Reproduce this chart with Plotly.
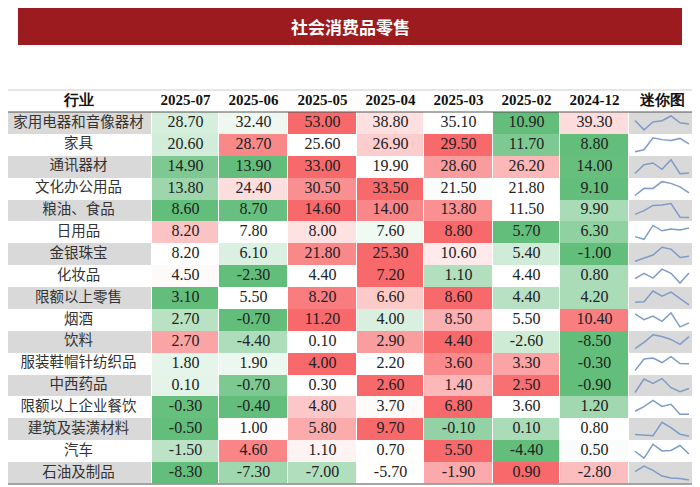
import plotly.graph_objects as go
import numpy as np

title = "社会消费品零售"
header_label = "行业"
spark_label = "迷你图"
months = ["2025-07", "2025-06", "2025-05", "2025-04", "2025-03", "2025-02", "2024-12"]
industries = ["家用电器和音像器材", "家具", "通讯器材", "文化办公用品", "粮油、食品", "日用品",
              "金银珠宝", "化妆品", "限额以上零售", "烟酒", "饮料", "服装鞋帽针纺织品", "中西药品",
              "限额以上企业餐饮", "建筑及装潢材料", "汽车", "石油及制品"]
values = [
    [28.70, 32.40, 53.00, 38.80, 35.10, 10.90, 39.30],
    [20.60, 28.70, 25.60, 26.90, 29.50, 11.70, 8.80],
    [14.90, 13.90, 33.00, 19.90, 28.60, 26.20, 14.00],
    [13.80, 24.40, 30.50, 33.50, 21.50, 21.80, 9.10],
    [8.60, 8.70, 14.60, 14.00, 13.80, 11.50, 9.90],
    [8.20, 7.80, 8.00, 7.60, 8.80, 5.70, 6.30],
    [8.20, 6.10, 21.80, 25.30, 10.60, 5.40, -1.00],
    [4.50, -2.30, 4.40, 7.20, 1.10, 4.40, 0.80],
    [3.10, 5.50, 8.20, 6.60, 8.60, 4.40, 4.20],
    [2.70, -0.70, 11.20, 4.00, 8.50, 5.50, 10.40],
    [2.70, -4.40, 0.10, 2.90, 4.40, -2.60, -8.50],
    [1.80, 1.90, 4.00, 2.20, 3.60, 3.30, -0.30],
    [0.10, -0.70, 0.30, 2.60, 1.40, 2.50, -0.90],
    [-0.30, -0.40, 4.80, 3.70, 6.80, 3.60, 1.20],
    [-0.50, 1.00, 5.80, 9.70, -0.10, 0.10, 0.80],
    [-1.50, 4.60, 1.10, 0.70, 5.50, -4.40, 0.50],
    [-8.30, -7.30, -7.00, -5.70, -1.90, 0.90, -2.80],
]

W, H = 700, 487
OFF = 8
col_edges = [5, 152, 219, 288, 357, 424, 493, 560, 629, 695]
hdr_top, hdr_bot = 90, 112
row_h = (484 - hdr_bot) / len(industries)
row_edges = [hdr_bot + i * row_h for i in range(len(industries) + 1)]
row_centers = [(row_edges[i] + row_edges[i + 1]) / 2 for i in range(len(industries))]

vals = np.array(values)
norm = np.zeros_like(vals)
for i, r in enumerate(vals):
    mn, md, mx = r.min(), np.median(r), r.max()
    for j, v in enumerate(r):
        if v >= md:
            norm[i, j] = (v - md) / (mx - md) if mx > md else 0
        else:
            norm[i, j] = -(md - v) / (md - mn) if md > mn else 0

fig = go.Figure()
fig.add_trace(go.Heatmap(
    x=col_edges[1:9], y=row_edges, z=norm, zmin=-1, zmax=1,
    colorscale=[[0, "#63BE7B"], [0.5, "#FFFFFF"], [1, "#F8696B"]],
    showscale=False, xgap=1, ygap=0, hoverinfo="skip"))

stripe = [[1 if i % 2 == 0 else 0] for i in range(len(industries))]
for x0, x1 in [(col_edges[0], col_edges[1]), (col_edges[8], col_edges[9])]:
    fig.add_trace(go.Heatmap(x=[x0, x1], y=row_edges, z=stripe, zmin=0, zmax=1,
                             colorscale=[[0, "#FFFFFF"], [1, "#D9D9D9"]], showscale=False,
                             xgap=1, hoverinfo="skip"))

xc = [(col_edges[j] + col_edges[j + 1]) / 2 for j in range(len(col_edges) - 1)]
tx, ty, tt = [], [], []
for i in range(len(industries)):
    for j in range(len(months)):
        tx.append(xc[j + 1]); ty.append(row_centers[i]); tt.append(f"{values[i][j]:.2f}")
fig.add_trace(go.Scatter(x=tx, y=ty, text=tt, mode="text",
                         textfont=dict(family="Liberation Serif", size=16, color="#222"),
                         hoverinfo="skip"))
fig.add_trace(go.Scatter(x=[xc[0]] * len(industries), y=row_centers, text=industries, mode="text",
                         textfont=dict(family="Noto Sans CJK SC", size=14.5, color="#333"),
                         hoverinfo="skip"))
fig.add_trace(go.Scatter(x=xc, y=[(hdr_top + hdr_bot) / 2] * len(xc),
                         text=[f"<b>{t}</b>" for t in [header_label] + months + [spark_label]],
                         mode="text", textfont=dict(family="Liberation Serif", size=15, color="#111"),
                         hoverinfo="skip"))

# sparklines in chronological order (oldest left)
sx0, sx1 = col_edges[8] + 6, col_edges[9] - 6
for i, r in enumerate(vals):
    rr = r[::-1]
    mn, mx = rr.min(), rr.max()
    ys = [row_edges[i] + 4 + (mx - v) / (mx - mn) * (row_h - 8) for v in rr]
    xs = [sx0 + k * (sx1 - sx0) / (len(rr) - 1) for k in range(len(rr))]
    fig.add_trace(go.Scatter(x=xs, y=ys, mode="lines", line=dict(color="#7F9CC8", width=1.5),
                             hoverinfo="skip"))

shapes = [
    dict(type="rect", x0=18, x1=682, y0=8, y1=45, fillcolor="#9B1B1E", line_width=0, layer="below"),
    dict(type="line", x0=col_edges[0], x1=col_edges[-1], y0=hdr_bot, y1=hdr_bot, line=dict(color="#555", width=1)),
    dict(type="line", x0=col_edges[0], x1=col_edges[-1], y0=row_edges[-1], y1=row_edges[-1], line=dict(color="#555", width=1.5)),
    dict(type="rect", x0=col_edges[0], x1=col_edges[-1], y0=hdr_top, y1=row_edges[-1], line=dict(color="#CCCCCC", width=1)),
]
fig.update_layout(
    width=W - OFF, height=H - OFF, margin=dict(l=0, r=0, t=0, b=0), showlegend=False,
    paper_bgcolor="white", plot_bgcolor="white", shapes=shapes,
    xaxis=dict(range=[OFF, W], visible=False, fixedrange=True),
    yaxis=dict(range=[H, OFF], visible=False, fixedrange=True),
    annotations=[dict(x=350, y=26, xref="x", yref="y", text=f"<b>{title}</b>", showarrow=False,
                      font=dict(family="Noto Sans CJK SC", size=17, color="white"))],
)
fig.write_html("out.html")
